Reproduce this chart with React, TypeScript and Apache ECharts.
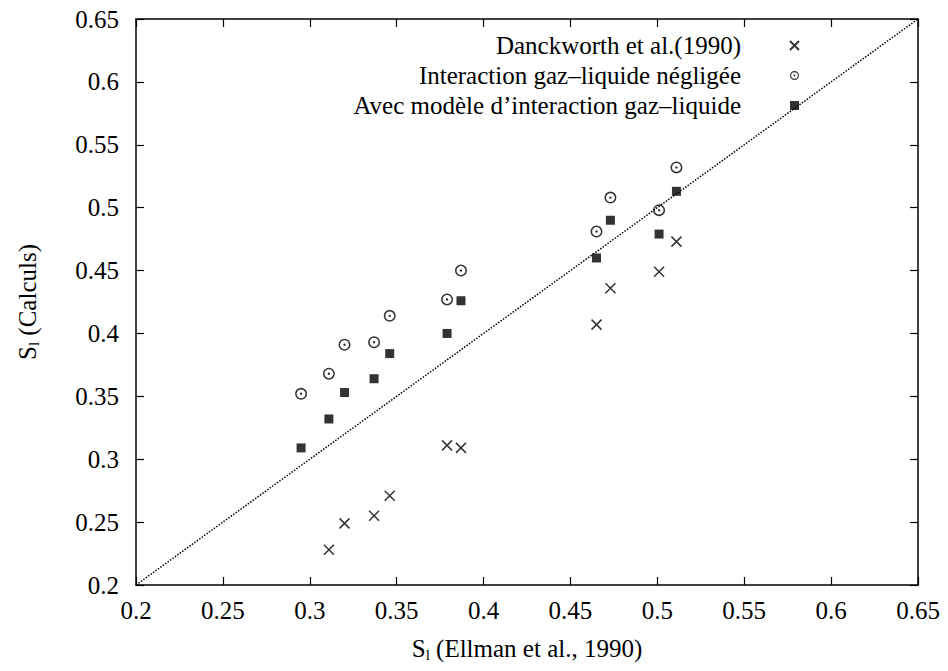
import React, { useEffect, useRef } from "react";
import * as echarts from "echarts";

// S_l (Ellman et al., 1990) — x values
const ellman = [0.295, 0.311, 0.32, 0.337, 0.346, 0.379, 0.387, 0.465, 0.473, 0.501, 0.511];
// Danckworth et al. (1990)
const danckworth = [null, 0.228, 0.249, 0.255, 0.271, 0.311, 0.309, 0.407, 0.436, 0.449, 0.473];
// Interaction gaz-liquide négligée
const negligee = [0.352, 0.368, 0.391, 0.393, 0.414, 0.427, 0.45, 0.481, 0.508, 0.498, 0.532];
// Avec modèle d'interaction gaz-liquide
const avecModele = [0.309, 0.332, 0.353, 0.364, 0.384, 0.4, 0.426, 0.46, 0.49, 0.479, 0.513];
// y = x reference line
const diagonal = [0.2, 0.65];

const seriesNames = [
  "Danckworth et al.(1990)",
  "Interaction gaz\u2013liquide négligée",
  "Avec modèle d\u2019interaction gaz\u2013liquide",
];

const FONT = "'Liberation Serif', 'Times New Roman', serif";

const pairs = (ys: (number | null)[]) =>
  ellman.map((x, i) => (ys[i] == null ? null : [x, ys[i]])).filter((p) => p !== null);

const CROSS = "path://M0,0L10,10M10,0L0,10";
const RING_DOT =
  "path://M10,0A10,10,0,1,1,10,20A10,10,0,1,1,10,0ZM10,2.6A7.4,7.4,0,1,0,10,17.4A7.4,7.4,0,1,0,10,2.6ZM10,8A2,2,0,1,1,10,12A2,2,0,1,1,10,8Z";

export default function App() {
  const ref = useRef<HTMLDivElement>(null);
  useEffect(() => {
    if (!ref.current) return;
    const chart = echarts.init(ref.current, undefined, { renderer: "svg" });
    const axisCommon = {
      type: "value" as const,
      min: 0.2,
      max: 0.65,
      interval: 0.05,
      splitLine: { show: false },
      axisLine: { show: true, onZero: false, lineStyle: { color: "#000", width: 1.5 } },
      axisTick: { show: true, inside: true, length: 8, lineStyle: { color: "#000", width: 1.2 } },
    };
    const labelStyle = { color: "#000", fontSize: 25, fontFamily: FONT };
    const nameRich = {
      s: { fontSize: 25, fontFamily: FONT, color: "#000" },
      sub: { fontSize: 15, fontFamily: FONT, color: "#000", padding: [12, 0, 0, 0] },
    };
    chart.setOption({
      animation: false,
      backgroundColor: "#fff",
      textStyle: { fontFamily: FONT },
      grid: { left: 136, right: 30, top: 19, bottom: 86, containLabel: false },
      xAxis: [
        {
          ...axisCommon,
          position: "bottom",
          axisLabel: { ...labelStyle, margin: 13 },
          name: "{s|S}{sub|l}{s| (Ellman et al., 1990)}",
          nameLocation: "middle",
          nameGap: 50,
          nameTextStyle: { fontFamily: FONT, rich: nameRich },
        },
        { ...axisCommon, position: "top", axisLabel: { show: false } },
      ],
      yAxis: [
        {
          ...axisCommon,
          position: "left",
          axisLabel: { ...labelStyle, margin: 17 },
          name: "{s|S}{sub|l}{s| (Calculs)}",
          nameLocation: "middle",
          nameRotate: 90,
          nameGap: 95,
          nameTextStyle: { fontFamily: FONT, rich: nameRich },
        },
        { ...axisCommon, position: "right", axisLabel: { show: false } },
      ],
      legend: {
        data: seriesNames,
        orient: "vertical",
        align: "right",
        right: 143,
        top: 28,
        itemGap: 5,
        itemWidth: 9,
        itemHeight: 9,
        selectedMode: false,
        textStyle: { color: "#000", fontSize: 25, fontFamily: FONT, padding: [0, 44, 0, 0] },
      },
      series: [
        {
          name: "diag",
          type: "line",
          data: [
            [diagonal[0], diagonal[0]],
            [diagonal[1], diagonal[1]],
          ],
          symbol: "none",
          lineStyle: { color: "#000", width: 1.5, type: [1.5, 1.5] },
          silent: true,
        },
        {
          name: seriesNames[0],
          type: "scatter",
          data: pairs(danckworth),
          symbol: CROSS,
          symbolSize: 10,
          itemStyle: { color: "#000", borderColor: "#000", borderWidth: 1.5 },
        },
        {
          name: seriesNames[1],
          type: "scatter",
          data: pairs(negligee),
          symbol: RING_DOT,
          symbolSize: 12,
          itemStyle: { color: "#000" },
        },
        {
          name: seriesNames[2],
          type: "scatter",
          data: pairs(avecModele),
          symbol: "rect",
          symbolSize: 9,
          itemStyle: { color: "#000" },
        },
      ],
    });
    return () => chart.dispose();
  }, []);
  return <div ref={ref} style={{ width: 948, height: 671, position: "absolute", left: 0, top: 0 }} />;
}
